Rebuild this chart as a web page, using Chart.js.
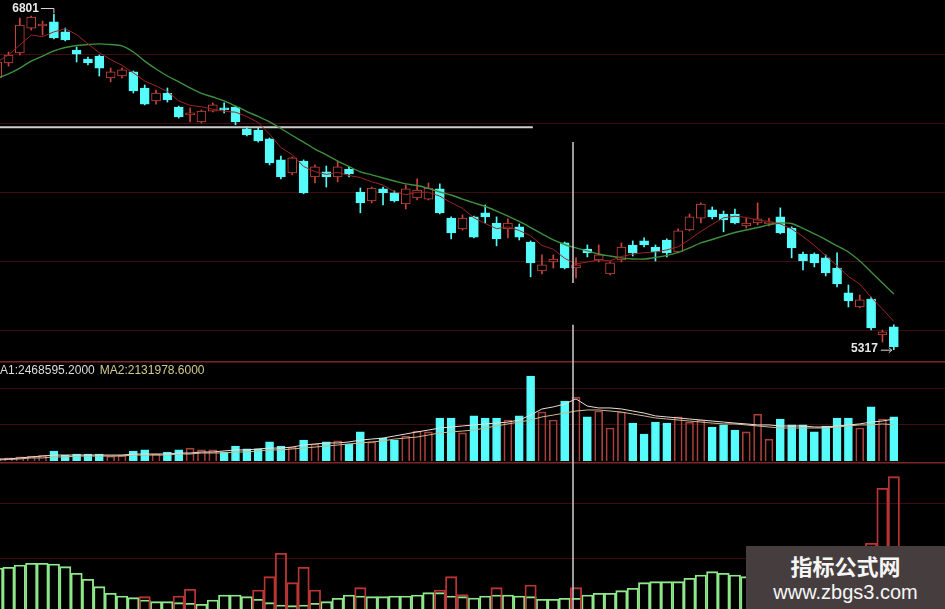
<!DOCTYPE html>
<html>
<head>
<meta charset="utf-8">
<script src="https://cdn.jsdelivr.net/npm/chart.js@4.4.0/dist/chart.umd.min.js"></script>
<style>
html,body{margin:0;padding:0;background:#000;overflow:hidden}
#wrap{position:relative;width:945px;height:609px;background:#000}
canvas{position:absolute;left:0}
#mark{position:absolute;left:746px;top:546px;width:199px;height:63px;background:#463e3e;color:#f6f6f6;text-align:center}
#mark .cn{font:bold 22px "Noto Sans CJK SC";line-height:26px;margin-top:6px}
#mark .url{font:20px "Liberation Sans";line-height:20px;margin-top:4px}
</style>
</head>
<body>
<div id="wrap">
<canvas id="price" width="945" height="361" style="top:0"></canvas>
<canvas id="vol" width="945" height="101" style="top:361px"></canvas>
<canvas id="ind" width="945" height="147" style="top:462px"></canvas>
<div id="mark"><div class="cn">指标公式网</div><div class="url">www.zbgs3.com</div></div>
</div>
<script>
// daily candles, oldest first
var opens = [6518,6585,6629,6739,6748,6766,6722,6642,6602,6615, 6518,6527,6545,6474,6417,6452,6390,6355,6324,6372,
  6386,6390,6293,6288,6249,6156,6098,6151,6081,6103, 6081,6116,6014,5975,6028,6010,5961,5988,5983,6028,
  5899,5851,5904,5922,5877,5851,5860,5793,5665,5705, 5789,5678,5762,5714,5652,5714,5780,5798,5771,5802,
  5749,5846,5899,5935,5917,5917,5864,5877,5873,5904, 5855,5740,5740,5723,5678,5568,5506,5541,5382,5418]
var highs = [6598,6633,6783,6792,6770,6801,6739,6655,6611,6620, 6562,6562,6549,6487,6465,6474,6394,6386,6377,6408,
  6408,6394,6302,6297,6253,6173,6169,6156,6134,6129, 6151,6125,6032,6036,6036,6019,6045,6072,6054,6050,
  5904,5913,5908,5957,5904,5895,5873,5798,5736,5736, 5793,5723,5780,5780,5705,5789,5798,5811,5780,5807,
  5851,5917,5966,5948,5930,5939,5899,5966,5899,5944, 5860,5749,5745,5736,5745,5603,5559,5550,5404,5427]
var lows = [6501,6571,6620,6730,6708,6691,6682,6589,6576,6527, 6501,6518,6452,6399,6403,6412,6341,6324,6319,6368,
  6364,6311,6262,6235,6134,6072,6090,6006,6054,6036, 6059,6081,5922,5966,5957,5970,5939,5979,5979,5917,
  5807,5846,5811,5877,5776,5811,5802,5639,5652,5678, 5674,5634,5727,5705,5648,5705,5731,5771,5709,5727,
  5745,5842,5877,5895,5838,5873,5855,5869,5864,5829, 5723,5670,5683,5643,5594,5506,5502,5404,5351,5317]
var closes = [6589,6620,6752,6788,6757,6695,6686,6624,6585,6562, 6545,6554,6461,6403,6452,6421,6346,6364,6372,6399,
  6377,6324,6266,6240,6143,6081,6165,6010,6125,6081, 6125,6094,5966,6032,6010,5975,6028,6023,6032,5922,
  5833,5899,5815,5904,5807,5877,5815,5701,5692,5718, 5678,5692,5745,5736,5701,5771,5745,5780,5749,5745,
  5842,5904,5961,5904,5891,5877,5877,5895,5882,5833, 5767,5709,5701,5656,5608,5533,5537,5413,5396,5329]

var ma5 = [6589,6620,6664,6708,6701,6722,6736,6710,6669,6630, 6600,6574,6541,6505,6483,6458,6417,6397,6391,6380,
  6371,6367,6348,6321,6270,6211,6179,6127,6104,6092, 6101,6087,6078,6059,6045,6015,6002,6013,6013,5996,
  5967,5942,5900,5875,5852,5860,5844,5821,5778,5761, 5721,5696,5705,5714,5710,5729,5739,5746,5749,5758,
  5772,5804,5840,5871,5900,5907,5902,5889,5884,5873, 5851,5817,5778,5733,5688,5641,5607,5549,5497,5442]
var ma20 = [6518,6536,6562,6593,6615,6638,6653,6662,6666,6669, 6666,6660,6633,6593,6558,6527,6501,6474,6450,6434,
  6417,6394,6370,6348,6324,6295,6264,6235,6204,6178, 6151,6127,6103,6090,6076,6063,6050,6043,6030,6014,
  6001,5983,5966,5950,5930,5908,5884,5857,5829,5802, 5782,5767,5754,5740,5731,5723,5718,5718,5725,5734,
  5747,5767,5789,5804,5820,5835,5846,5857,5869,5877, 5875,5853,5829,5804,5776,5749,5709,5661,5612,5563]

// volume, in 10k
var volumes = [12,18,24,29,35,59,35,41,41,41, 29,35,59,65,41,53,65,76,65,65,
  53,88,71,71,112,88,82,123,100,112, 118,100,171,112,135,123,147,176,171,253,
  253,165,265,253,253,241,265,500,288,241, 353,376,259,294,194,288,223,159,229,223,
  259,229,241,200,212,182,171,276,129,247, 212,212,171,206,253,253,194,318,247,259]
var volMa1 = [12,12,18,24,29,35,35,35,35,35, 35,35,41,41,41,41,47,47,53,53,
  59,65,65,71,76,76,82,94,100,106, 106,112,123,129,135,147,159,171,182,194,
  200,206,212,218,223,229,241,270,306,318, 335,365,323,312,312,306,294,282,265,259,
  253,247,241,235,229,223,218,212,212,206, 206,206,200,200,206,212,218,229,235,247]
var volMa2 = [6,9,12,18,18,24,24,29,29,29, 29,29,35,35,35,35,41,41,47,47,
  47,53,53,59,65,65,71,76,82,88, 94,100,106,112,118,129,135,141,153,165,
  171,176,182,194,206,218,229,241,259,270, 282,294,300,300,294,288,276,265,253,247,
  241,235,229,223,218,218,212,206,200,194, 194,194,194,194,200,206,212,212,218,213]
var volMaLast = [2468595.2, 2131978.6]

// lower indicator (part of it sits under the watermark)
var indGreen = [41,41.7,44,45.7,45.7,45,42.3,35.7,29.7,22.3, 15.7,13,11.3,9,7.3,7.3,6.3,5.7,4.7,9,
  14,14,12.3,9.7,6.3,4,3.3,4,5.7,7.3, 10.7,14,13,12.3,12.3,13,13,14,16.3,16.3,
  13,12.3,11,13,14,14,13,12.3,9.7,9.7, 10.7,10.7,14,15.7,15.7,18.3,20.7,26.3,27.3,27.3,
  27.3,30.7,34,37.3,35.7,34,32.3,null,null,null, null,null,null,null,null,null,null,null,null,null]
var indRed = [null,null,null,null,null,null,null,null,null,null, null,null,null,12.3,null,null,13,19.7,null,null,
  null,null,null,19,32.3,55.7,26.3,41.7,19,null, null,null,21.3,null,null,null,null,null,null,19,
  32.3,14.5,null,null,21.3,null,null,24,null,null, null,21.3,null,null,null,null,null,null,null,null,
  null,null,null,null,null,null,null,null,null,null, null,null,null,null,null,null,null,65.7,120.7,132.3]

var priceGrid = [5404,5709,6014,6319,6624]
var volGrid = [218,429]
var indGrid = [51,106]
var drawnLine = {from:0, to:47.2, price:6300}
var crossAt = 50.73
var crossPriceSegs = [[6235,5612],[5427,5267]]

var RED = '#c8443c', CYAN = '#56fbfb', GRID = '#3e0d0f', SEP = '#7a2626'
var xMin = 0.251, xMax = 83.51

function up(i){ return closes[i] >= opens[i] }
function pts(arr){ var out = []; arr.forEach(function(v,i){ if (v !== null) out.push({x:i, y:v}) }); return out }

var deco = {
  id: 'deco',
  beforeDatasetsDraw: function(chart, args, o){
    var ctx = chart.ctx, ys = chart.scales.y, a = chart.chartArea
    ctx.save()
    ctx.lineWidth = 1
    ctx.strokeStyle = GRID
    ;(o.grid || []).forEach(function(v){
      var py = Math.round(ys.getPixelForValue(v)) + 0.5
      ctx.beginPath(); ctx.moveTo(a.left, py); ctx.lineTo(a.right, py); ctx.stroke()
    })
    if (o.topLine) {
      ctx.strokeStyle = SEP
      ctx.lineWidth = 1.5
      ctx.beginPath(); ctx.moveTo(a.left, 0.75); ctx.lineTo(a.right, 0.75); ctx.stroke()
    }
    ctx.restore()
  },
  afterDatasetsDraw: function(chart, args, o){
    var ctx = chart.ctx, xs = chart.scales.x, ys = chart.scales.y
    ctx.save()
    ctx.strokeStyle = '#cfcfcf'
    ctx.lineWidth = 1.5
    var px = Math.round(xs.getPixelForValue(crossAt))
    ;(o.cross || [[ys.max, ys.min]]).forEach(function(s){
      ctx.beginPath(); ctx.moveTo(px, ys.getPixelForValue(s[0])); ctx.lineTo(px, ys.getPixelForValue(s[1])); ctx.stroke()
    })
    ctx.restore()
    if (o.after) o.after(chart)
  }
}

function opts(min, max, d){
  return {
    responsive: false, animation: false, events: [],
    layout: {padding: 0},
    plugins: {legend: {display: false}, tooltip: {enabled: false}, deco: d},
    scales: {
      x: {type: 'linear', min: xMin, max: xMax, display: false, offset: false},
      y: {type: 'linear', min: min, max: max, display: false}
    }
  }
}

function hiLo(chart){
  var ctx = chart.ctx, xs = chart.scales.x, ys = chart.scales.y
  var hi = Math.max.apply(null, highs), hiI = highs.indexOf(hi)
  var lo = Math.min.apply(null, lows), loI = lows.indexOf(lo)
  ctx.save()
  ctx.font = 'bold 12px "Liberation Sans"'
  ctx.fillStyle = '#e8e8e8'
  ctx.strokeStyle = '#d8d8d8'
  ctx.lineWidth = 1
  ctx.textBaseline = 'middle'
  ctx.textAlign = 'right'
  var px = xs.getPixelForValue(hiI), py = ys.getPixelForValue(hi)
  ctx.fillText(String(hi), px - 15, py - 5)
  ctx.beginPath(); ctx.moveTo(px - 13, py - 5.5); ctx.lineTo(px, py - 5.5); ctx.lineTo(px, py - 1); ctx.stroke()
  px = xs.getPixelForValue(loI); py = ys.getPixelForValue(lo)
  ctx.fillText(String(lo), px - 16, py - 1)
  ctx.beginPath(); ctx.moveTo(px - 13, py + 0.5); ctx.lineTo(px - 2, py + 0.5)
  ctx.moveTo(px - 5, py - 2); ctx.lineTo(px - 2, py + 0.5); ctx.lineTo(px - 5, py + 3); ctx.stroke()
  ctx.restore()
}

function volText(chart){
  var ctx = chart.ctx
  ctx.save()
  ctx.font = '12px "Liberation Sans"'
  ctx.textBaseline = 'middle'
  var t1 = 'MA1:' + volMaLast[0].toFixed(4), t2 = 'MA2:' + volMaLast[1].toFixed(4)
  ctx.fillStyle = '#dcdcdc'
  ctx.fillText(t1, -10, 9.5)
  ctx.fillStyle = '#d4ca8e'
  ctx.fillText(t2, -10 + ctx.measureText(t1).width + 5, 9.5)
  ctx.restore()
}

var bodyBg = [], bodyBorder = [], wickColor = [], volBg = [], volBorder = []
for (var i = 0; i < closes.length; i++) {
  bodyBg.push(up(i) ? '#000' : CYAN)
  bodyBorder.push(up(i) ? RED : CYAN)
  wickColor.push(up(i) ? RED : CYAN)
  volBg.push(up(i) ? 'rgba(0,0,0,0)' : CYAN)
  volBorder.push(up(i) ? '#a8403c' : CYAN)
}

new Chart(document.getElementById('price'), {
  type: 'bar',
  data: {datasets: [
    {type: 'line', data: pts(ma5), borderColor: '#9c2424', borderWidth: 1, pointRadius: 0, order: 0},
    {type: 'line', data: pts(ma20), borderColor: '#3f8f3f', borderWidth: 1.4, pointRadius: 0, tension: 0.3, order: 0},
    {type: 'line', data: [{x: drawnLine.from, y: drawnLine.price}, {x: drawnLine.to, y: drawnLine.price}],
      borderColor: '#cdcdcd', borderWidth: 2, pointRadius: 0, order: 0},
    {data: opens.map(function(o,i){ return {x: i, y: [o, closes[i]]} }), backgroundColor: bodyBg, borderColor: bodyBorder,
      borderWidth: 1, borderSkipped: false, barThickness: 9, minBarLength: 1, grouped: false, order: 1},
    {data: lows.map(function(l,i){ return {x: i, y: [l, highs[i]]} }), backgroundColor: wickColor,
      borderWidth: 0, barThickness: 1, grouped: false, order: 2}
  ]},
  options: opts(5267, 6863, {grid: priceGrid, cross: crossPriceSegs, after: hiLo}),
  plugins: [deco]
})

new Chart(document.getElementById('vol'), {
  type: 'bar',
  data: {datasets: [
    {type: 'line', data: pts(volMa1), borderColor: '#eadcd8', borderWidth: 1, pointRadius: 0, order: 0},
    {type: 'line', data: pts(volMa2), borderColor: '#cdb98f', borderWidth: 1, pointRadius: 0, order: 0},
    {data: pts(volumes), backgroundColor: volBg, borderColor: volBorder, borderWidth: 1,
      barThickness: 8, grouped: false, order: 1}
  ]},
  options: opts(-5.88, 588, {grid: volGrid, topLine: true, after: volText}),
  plugins: [deco]
})

new Chart(document.getElementById('ind'), {
  type: 'bar',
  data: {datasets: [
    {data: pts(indRed), backgroundColor: 'rgba(0,0,0,0)', borderColor: '#bb3434', borderWidth: 1.2,
      barThickness: 11.35, grouped: false, order: 0},
    {data: pts(indGreen), backgroundColor: 'rgba(0,0,0,0)', borderColor: '#8ee88a', borderWidth: 1.2,
      barThickness: 11.35, grouped: false, order: 1}
  ]},
  options: opts(0, 147, {grid: indGrid, topLine: true}),
  plugins: [deco]
})
</script>
</body>
</html>
